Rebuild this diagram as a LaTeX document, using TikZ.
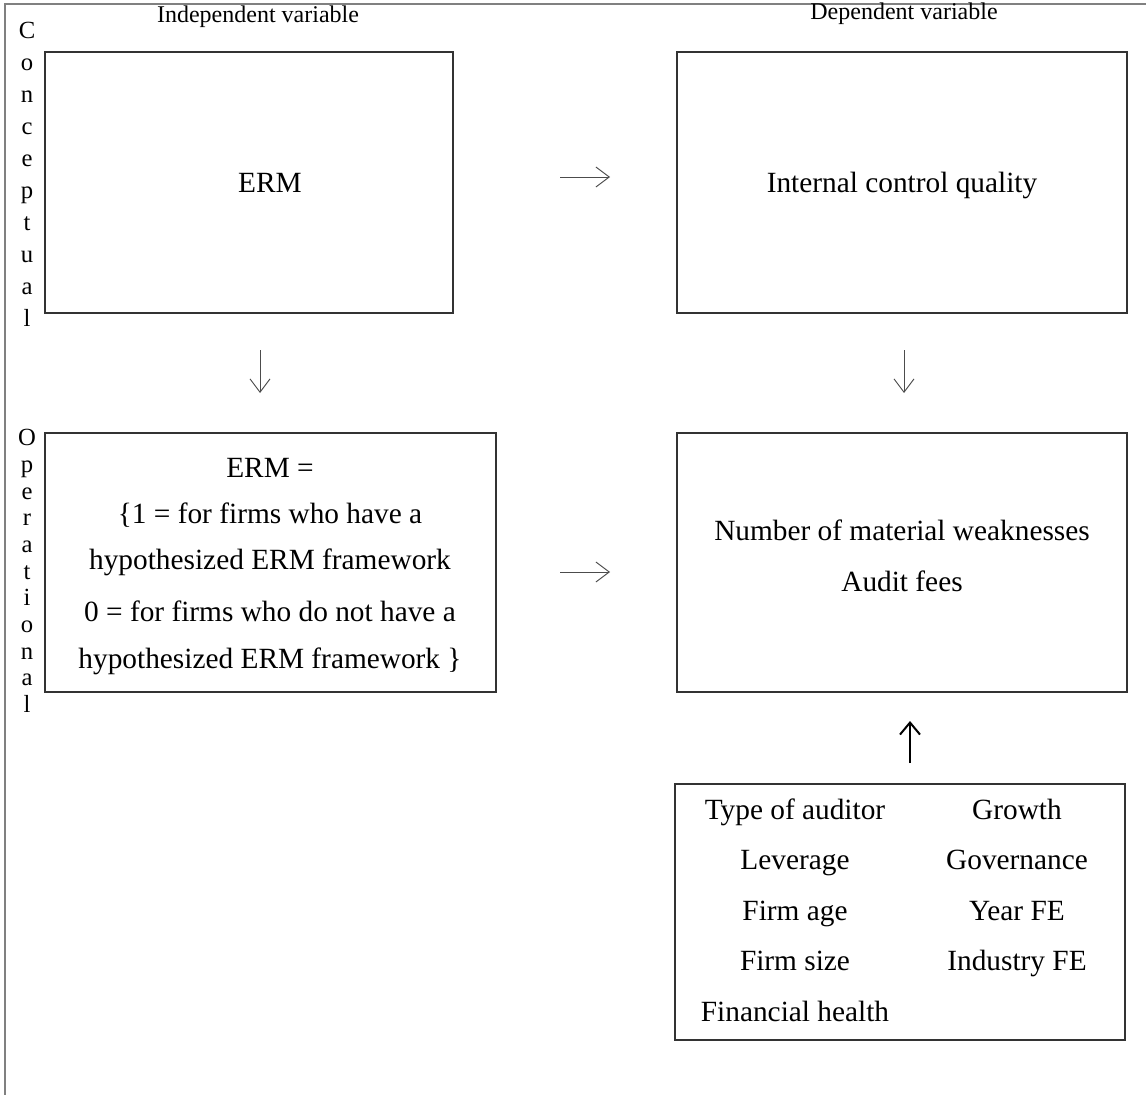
\documentclass[tikz,border=0pt]{standalone}
\usepackage{fontspec}
\setmainfont{Liberation Serif}
\usetikzlibrary{arrows.meta}
\begin{document}
\begin{tikzpicture}[x=0.75pt,y=-0.75pt,
  box/.style={draw=black!80, line width=0.8pt, inner sep=0pt},
  frameline/.style={draw=black!50, line width=1.5pt},
  txt/.style={anchor=base, inner sep=0pt, font=\fontsize{22}{26}\selectfont},
  hdr/.style={anchor=base, inner sep=0pt, font=\fontsize{18}{21}\selectfont},
  vletA/.style={align=center, inner sep=0pt, font=\fontsize{18.5}{24}\selectfont},
  vletB/.style={align=center, inner sep=0pt, font=\fontsize{18.5}{20}\selectfont},
  thinarrow/.style={draw=black!70, line width=0.7pt, -{Straight Barb[length=10pt,width=15pt]}},
  boldarrow/.style={draw=black, line width=1.5pt, -{Straight Barb[length=9pt,width=15pt]}}]
\useasboundingbox (0,0) rectangle (1146,1095);
\fill[white] (0,0) rectangle (1146,1095);
\draw[frameline] (5,1095) -- (5,4) -- (1146,4);

% boxes
\node[box, minimum width=306pt, minimum height=195.75pt] (erm) at (249,182.5) {};
\node[box, minimum width=337.5pt, minimum height=195.75pt] (icq) at (902,182.5) {};
\node[box, minimum width=338.25pt, minimum height=194.25pt] (ermop) at (270.5,562.5) {};
\node[box, minimum width=337.5pt, minimum height=194.25pt] (mw) at (902,562.5) {};
\node[box, minimum width=337.5pt, minimum height=192pt] (ctrl) at (900,912) {};

% headers
\node[hdr] (hind) at (258,23) {Independent variable};
\node[hdr] (hdep) at (904,20) {Dependent variable};

% side labels
\node[vletA] (conc) at (27,174) {C\\o\\n\\c\\e\\p\\t\\u\\a\\l};
\node[vletB] (oper) at (27,571) {O\\p\\e\\r\\a\\t\\i\\o\\n\\a\\l};

% texts
\node[txt] (termt) at (270,193) {ERM};
\node[txt] (ticq) at (902,193) {Internal control quality};

\node[txt] (op1) at (270,477) {ERM =};
\node[txt] (op2) at (270,523) {\{1 = for firms who have a};
\node[txt] (op3) at (270,569) {hypothesized ERM framework};
\node[txt] (op4) at (270,621) {0 = for firms who do not have a};
\node[txt] (op5) at (270,668) {hypothesized ERM framework \}};

\node[txt] (mw1) at (902,540) {Number of material weaknesses};
\node[txt] (mw2) at (902,591) {Audit fees};

\node[txt] (c11) at (795,819) {Type of auditor};
\node[txt] (c21) at (795,869.5) {Leverage};
\node[txt] (c31) at (795,920) {Firm age};
\node[txt] (c41) at (795,970.5) {Firm size};
\node[txt] (c51) at (795,1021) {Financial health};
\node[txt] (c12) at (1017,819) {Growth};
\node[txt] (c22) at (1017,869.5) {Governance};
\node[txt] (c32) at (1017,920) {Year FE};
\node[txt] (c42) at (1017,970.5) {Industry FE};

% arrows
\coordinate (h1s) at (560,177);
\coordinate (h1e) at (610,177);
\coordinate (h2s) at (560,572);
\coordinate (h2e) at (610,572);
\coordinate (v1s) at (260,350);
\coordinate (v1e) at (260,393);
\coordinate (v2s) at (904,350);
\coordinate (v2e) at (904,393);
\coordinate (u1s) at (910,763);
\coordinate (u1e) at (910,721);
\draw[thinarrow] (h1s) -- (h1e);
\draw[thinarrow] (h2s) -- (h2e);
\draw[thinarrow] (v1s) -- (v1e);
\draw[thinarrow] (v2s) -- (v2e);
\draw[boldarrow] (u1s) -- (u1e);
\end{tikzpicture}
\end{document}
